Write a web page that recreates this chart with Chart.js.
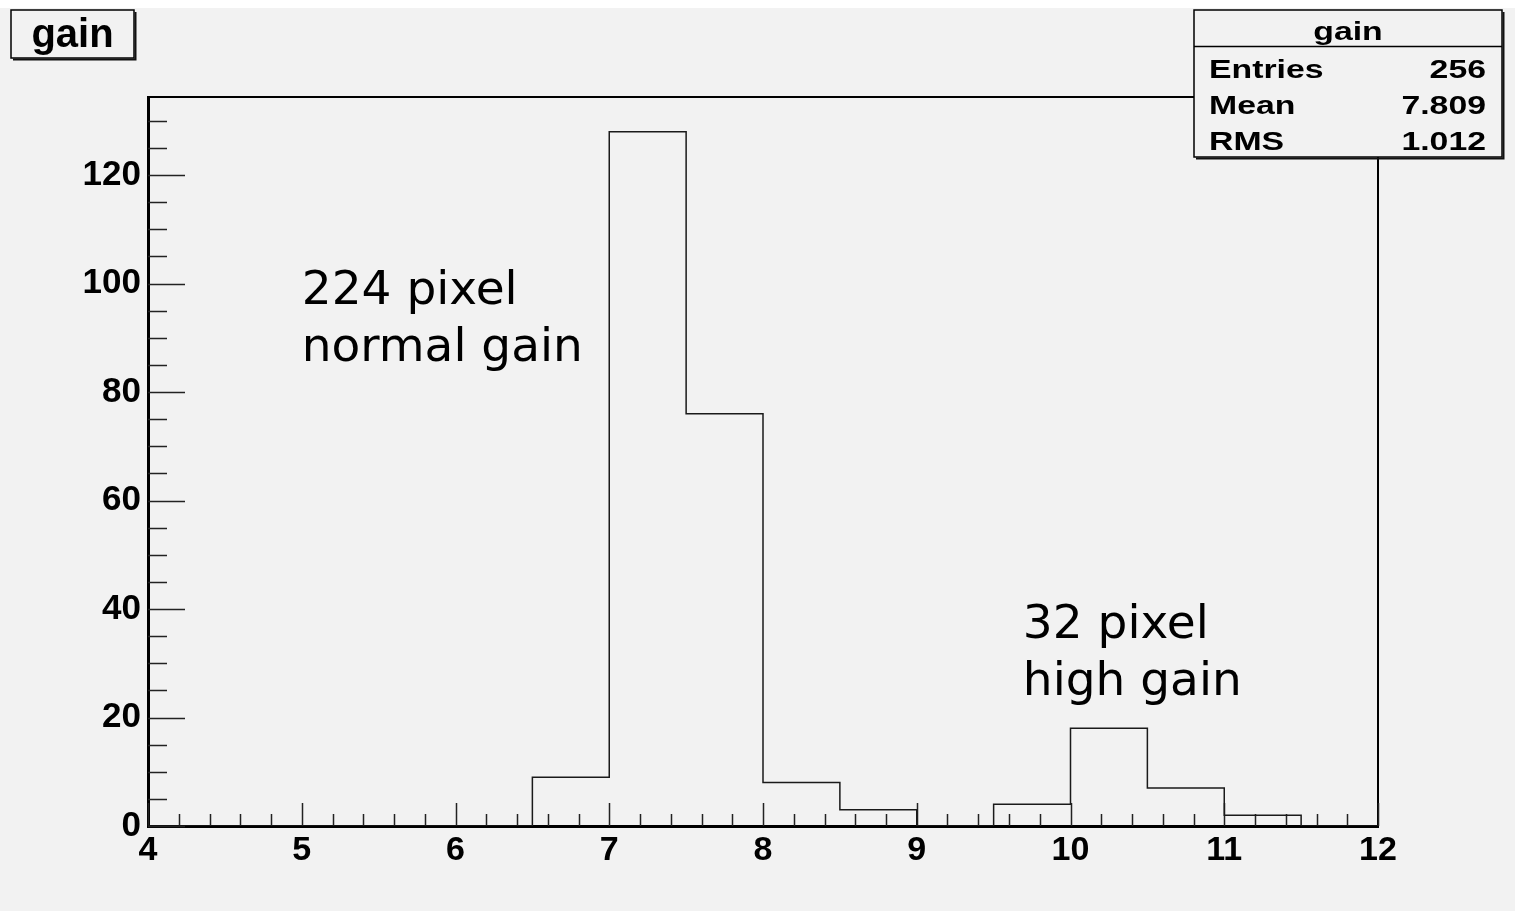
<!DOCTYPE html>
<html>
<head>
<meta charset="utf-8">
<title>gain</title>
<script src="https://cdn.jsdelivr.net/npm/chart.js@4/dist/chart.umd.min.js"></script>
<style>
  html, body { margin: 0; padding: 0; background: #f2f2f2; overflow: hidden; }
  #wrap { width: 1515px; height: 911px; }
</style>
</head>
<body>
<div id="wrap"><canvas id="c" width="1515" height="911"></canvas></div>
<script>
// Histogram "gain": bin edges and bin contents
const binEdges = [4, 4.5, 5, 5.5, 6, 6.5, 7, 7.5, 8, 8.5, 9, 9.5, 10, 10.5, 11, 11.5, 12];
const binCounts = [0, 0, 0, 0, 0, 9, 128, 76, 8, 3, 0, 4, 18, 7, 2, 0];

// Axis tick labels
const xTickLabels = [4, 5, 6, 7, 8, 9, 10, 11, 12];
const yTickLabels = [0, 20, 40, 60, 80, 100, 120];

// Statistics box
const histName = 'gain';
const statNames = ['Entries', 'Mean', 'RMS'];
const statValues = ['256', '7.809', '1.012'];

// Text notes, anchored in data coordinates (x value, y value of first baseline)
const noteLines = [['224 pixel', 'normal gain'], ['32 pixel', 'high gain']];
const noteX = [5.0, 9.69];
const noteY = [96.2, 34.6];

const ROOT_FONT = '"Liberation Sans", Arial, Helvetica, sans-serif';
const NOTE_FONT = '"DejaVu Sans", sans-serif';

// Step outline: one point per bin low edge carrying the bin's count; the outline
// runs flat across the bin and steps at its upper edge. The last edge closes to 0.
const histPoints = binEdges.map((e, i) => ({ x: e, y: i < binCounts.length ? binCounts[i] : 0 }));

function boxWithShadow(ctx, x, y, w, h) {
  ctx.save();
  ctx.fillStyle = '#f2f2f2';
  ctx.fillRect(x, y, w, h);
  ctx.strokeStyle = '#000';
  ctx.lineWidth = 1.5;
  ctx.strokeRect(x, y, w, h);
  // drop shadow on right and bottom edges
  ctx.lineWidth = 2;
  ctx.strokeStyle = '#111';
  ctx.beginPath();
  ctx.moveTo(x + 2, y + h + 1.5);
  ctx.lineTo(x + w + 1.5, y + h + 1.5);
  ctx.lineTo(x + w + 1.5, y + 2);
  ctx.stroke();
  ctx.restore();
}

function stretchedText(ctx, text, x, y, sx, align) {
  ctx.save();
  ctx.translate(x, y);
  ctx.scale(sx, 1);
  ctx.textAlign = align;
  ctx.fillText(text, 0, 0);
  ctx.restore();
}

const rootFrame = {
  id: 'rootFrame',
  beforeDraw(chart) {
    const ctx = chart.ctx;
    ctx.save();
    ctx.fillStyle = '#f2f2f2';
    ctx.fillRect(0, 0, chart.width, chart.height);
    ctx.fillStyle = '#ffffff';
    ctx.fillRect(0, 0, chart.width, 8);
    ctx.restore();
  },
  beforeDatasetsDraw(chart) {
    const ctx = chart.ctx;
    const xs = chart.scales.x, ys = chart.scales.y;
    const a = chart.chartArea;
    ctx.save();
    ctx.strokeStyle = '#000';
    ctx.lineWidth = 2;
    ctx.beginPath();
    ctx.moveTo(a.left, a.top);
    ctx.lineTo(a.right, a.top);
    ctx.lineTo(a.right, a.bottom);
    ctx.stroke();

    // inward ticks on the x axis: majors every 1, minors every 0.2
    ctx.strokeStyle = '#222';
    ctx.lineWidth = 1.5;
    ctx.beginPath();
    for (let k = 0; k <= 40; k++) {
      const v = xs.min + k * 0.2;
      const px = Math.round(xs.getPixelForValue(v)) + 0.5;
      const len = (k % 5 === 0) ? 23 : 12;
      ctx.moveTo(px, a.bottom);
      ctx.lineTo(px, a.bottom - len);
    }
    // inward ticks on the y axis: majors every 20, minors every 5
    for (let v = 0; v <= ys.max; v += 5) {
      const py = Math.round(ys.getPixelForValue(v)) + 0.5;
      const len = (v % 20 === 0) ? 37 : 19;
      ctx.moveTo(a.left, py);
      ctx.lineTo(a.left + len, py);
    }
    ctx.stroke();
    ctx.restore();
  },
  afterDraw(chart) {
    const ctx = chart.ctx;
    const xs = chart.scales.x, ys = chart.scales.y;
    ctx.save();

    // text notes
    ctx.fillStyle = '#000';
    ctx.font = '47px ' + NOTE_FONT;
    ctx.textAlign = 'left';
    ctx.textBaseline = 'alphabetic';
    noteLines.forEach((lines, i) => {
      const px = xs.getPixelForValue(noteX[i]);
      const py = ys.getPixelForValue(noteY[i]);
      lines.forEach((t, j) => ctx.fillText(t, px, py + j * 57));
    });

    // title box
    boxWithShadow(ctx, 11, 10, 123, 48);
    ctx.fillStyle = '#000';
    ctx.font = 'bold 40px ' + ROOT_FONT;
    ctx.textAlign = 'center';
    ctx.fillText(histName, 72.5, 47);

    // statistics box
    const bx = 1194, by = 10, bw = 308, bh = 147;
    boxWithShadow(ctx, bx, by, bw, bh);
    ctx.strokeStyle = '#000';
    ctx.lineWidth = 1.5;
    ctx.beginPath();
    ctx.moveTo(bx, 46.5);
    ctx.lineTo(bx + bw, 46.5);
    ctx.stroke();
    ctx.fillStyle = '#000';
    ctx.font = 'bold 26px ' + ROOT_FONT;
    stretchedText(ctx, histName, bx + bw / 2, 40, 1.3, 'center');
    statNames.forEach((n, i) => {
      const base = 78 + i * 36;
      stretchedText(ctx, n, 1209, base, 1.3, 'left');
      stretchedText(ctx, statValues[i], 1486, base, 1.3, 'right');
    });
    ctx.restore();
  }
};

new Chart(document.getElementById('c'), {
  type: 'line',
  data: {
    datasets: [{
      data: histPoints,
      stepped: 'before',
      borderColor: '#1a1a1a',
      borderWidth: 1.5,
      pointRadius: 0,
      fill: false,
      tension: 0
    }]
  },
  options: {
    responsive: false,
    animation: false,
    devicePixelRatio: 1,
    layout: { padding: { top: 97, right: 137, left: 0, bottom: 0 } },
    plugins: { legend: { display: false }, tooltip: { enabled: false }, title: { display: false } },
    scales: {
      x: {
        type: 'linear',
        min: 4,
        max: 12,
        afterFit(s) { s.height = 85; },
        afterBuildTicks(s) { s.ticks = xTickLabels.map(v => ({ value: v })); },
        grid: { drawOnChartArea: false, drawTicks: false },
        border: { display: true, color: '#000', width: 3 },
        ticks: {
          autoSkip: false,
          maxRotation: 0,
          padding: 4,
          color: '#000',
          font: { family: ROOT_FONT, weight: 'bold', size: 34 }
        }
      },
      y: {
        type: 'linear',
        min: 0,
        max: 134.4,
        afterFit(s) { s.width = 148; },
        afterBuildTicks(s) { s.ticks = yTickLabels.map(v => ({ value: v })); },
        grid: { drawOnChartArea: false, drawTicks: false },
        border: { display: true, color: '#000', width: 3 },
        ticks: {
          padding: 7,
          color: '#000',
          font: { family: ROOT_FONT, weight: 'bold', size: 35 }
        }
      }
    }
  },
  plugins: [rootFrame]
});
</script>
</body>
</html>
